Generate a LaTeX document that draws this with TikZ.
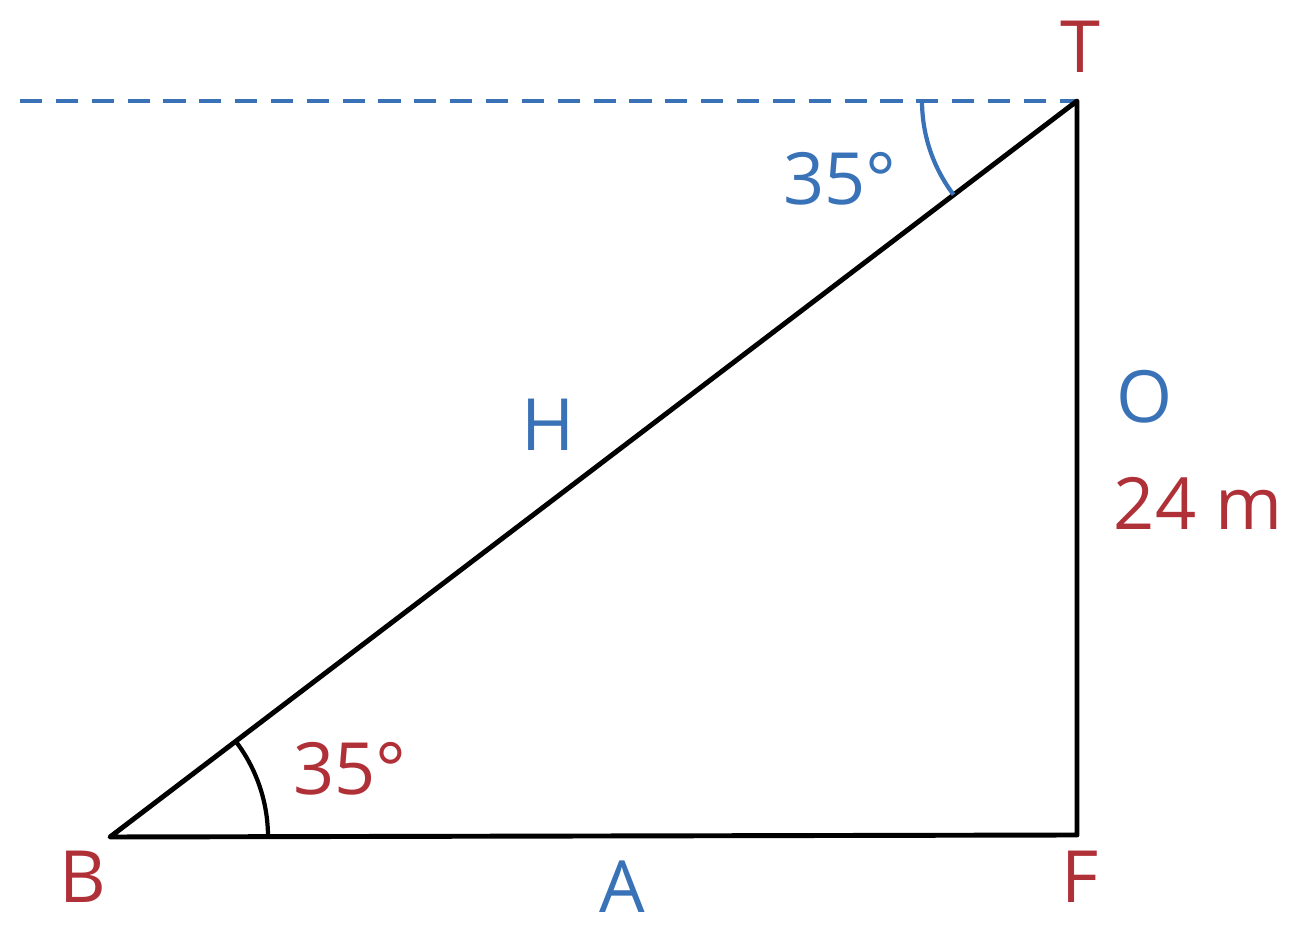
\documentclass[tikz,border=0pt]{standalone}
\usepackage{fontspec}
\setmainfont{Open Sans}
\usetikzlibrary{positioning}
\definecolor{penred}{RGB}{176,48,56}
\definecolor{penblue}{RGB}{58,114,184}
\tikzset{
  redlabel/.style={text=penred, font=\fontsize{20.5}{24}\selectfont},
  bluelabel/.style={text=penblue, font=\fontsize{20.5}{24}\selectfont},
  side/.style={line width=1.4pt, line join=round}
}

\begin{document}
\begin{tikzpicture}  % Begins a TikZ picture environment
    \useasboundingbox (0,0) rectangle (13,9.39);  % Fixes the picture size
    \coordinate (B) at (1.10,1.02);  % Bottom left vertex
    \coordinate (F) at (10.77,1.04);  % Foot of the vertical side
    \coordinate (T) at (10.77,8.38);  % Top vertex
    \coordinate (L) at (0.20,8.38);  % Left end of the horizontal line
    \draw[penblue, line width=1.2pt, dash pattern=on 6.3pt off 3.9pt] (L) -- (T);  % Draws the horizontal line through T
    \draw[side] (B) -- (F) -- (T) -- cycle;  % Draws the triangle
    \draw[line width=1.2pt] ([shift={(1.58,0)}]B) arc[start angle=0, end angle=37.2, radius=1.58];  % Angle at B
    \draw[penblue, line width=1.2pt] ([shift={(-1.55,0)}]T) arc[start angle=180, end angle=217.2, radius=1.55];  % Angle at T
    \node[redlabel] (labT) at (10.80,8.92) {T};  % Vertex labels
    \node[redlabel] (labB) at (0.83,0.62) {B};
    \node[redlabel] (labF) at (10.80,0.62) {F};
    \node[bluelabel] (labA) at (6.22,0.52) {A};  % Side labels
    \node[bluelabel] (labH) at (5.48,5.14) {H};
    \node[bluelabel] (labO) at (11.45,5.42) {O};
    \node[redlabel] (labLen) at (11.98,4.36) {24 m};
    \node[bluelabel] (angT) at (8.40,7.60) {35°};  % Angle labels
    \node[redlabel] (angB) at (3.50,1.70) {35°};
\end{tikzpicture}
\end{document}
